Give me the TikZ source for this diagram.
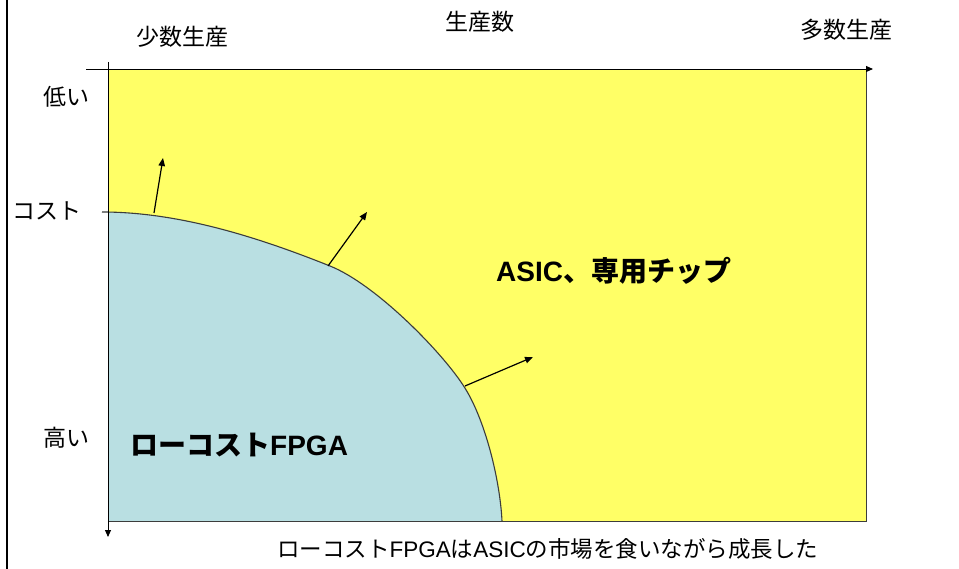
\documentclass[tikz,border=0pt]{standalone}
\usepackage{fontspec}
\setmainfont{Liberation Sans}
\newfontfamily\jp{Noto Sans CJK JP}
\usetikzlibrary{arrows.meta}
\definecolor{asicyellow}{RGB}{255,255,102}
\definecolor{fpgablue}{RGB}{185,223,226}
\definecolor{edgegray}{RGB}{60,60,60}
\tikzset{
  lbl/.style={font=\fontsize{23}{26}\selectfont, inner sep=0pt},
  captxt/.style={font=\fontsize{22.5}{26}\selectfont, inner sep=0pt},
  big/.style={font=\fontsize{28}{32}\selectfont\bfseries, inner sep=0pt},
  axis/.style={line width=0.9pt, -{Triangle[length=7pt,width=6pt]}},
  growth/.style={line width=1.2pt, -{Triangle[length=8pt,width=6.5pt]}},
}
\begin{document}
\begin{tikzpicture}[x=1pt,y=-1pt]
\useasboundingbox (0,0) rectangle (959,569);
\fill[white] (0,0) rectangle (959,569);
% left frame line
\draw[line width=2.5pt] (7,0) -- (7,569);
% yellow ASIC area
\filldraw[fill=asicyellow, draw=edgegray, line width=0.8pt] (108,69) rectangle (866,521);
% blue FPGA area
\coordinate (c0) at (102,212);
\coordinate (c1) at (330,266);
\coordinate (c2) at (463,385);
\coordinate (c3) at (502,521);
\fill[fpgablue] (c0) .. controls (180,212) and (260,238) .. (c1)
  .. controls (375,284) and (440,350) .. (c2)
  .. controls (485,418) and (500,480) .. (c3)
  -- (108,521) -- (108,212) -- cycle;
\draw[edgegray, line width=1.1pt] (c0) .. controls (180,212) and (260,238) .. (c1)
  .. controls (375,284) and (440,350) .. (c2)
  .. controls (485,418) and (500,480) .. (c3);
\draw[edgegray, line width=0.8pt] (108,521) -- (c3);
% axes
\coordinate (xs) at (86,69);
\coordinate (xe) at (873,69);
\coordinate (ys) at (108,62);
\coordinate (ye) at (108,537);
\draw[axis] (xs) -- (xe);
\draw[axis] (ys) -- (ye);
% growth arrows
\coordinate (a1s) at (154,213);
\coordinate (a1e) at (163,158);
\coordinate (a2s) at (328,266);
\coordinate (a2e) at (367,212);
\coordinate (a3s) at (465,386);
\coordinate (a3e) at (533,357);
\draw[growth] (a1s) -- (a1e);
\draw[growth] (a2s) -- (a2e);
\draw[growth] (a3s) -- (a3e);
% labels
\node[lbl] (few) at (182,37) {\jp 少数生産};
\node[lbl] (qty) at (480,22) {\jp 生産数};
\node[lbl] (many) at (846,30) {\jp 多数生産};
\node[lbl] (low) at (66,97) {\jp 低い};
\node[lbl] (cost) at (47,211) {\jp コスト};
\node[lbl] (high) at (66,438) {\jp 高い};
\node[big, anchor=west] (fpga) at (130,445) {{\jp\bfseries ローコスト}FPGA};
\node[big, anchor=west] (asic) at (496,271) {ASIC{\jp\bfseries 、専用チップ}};
\node[captxt, anchor=west] (capt) at (277,549) {{\jp ローコスト}FPGA{\jp は}ASIC{\jp の市場を食いながら成長した}};
\end{tikzpicture}
\end{document}
